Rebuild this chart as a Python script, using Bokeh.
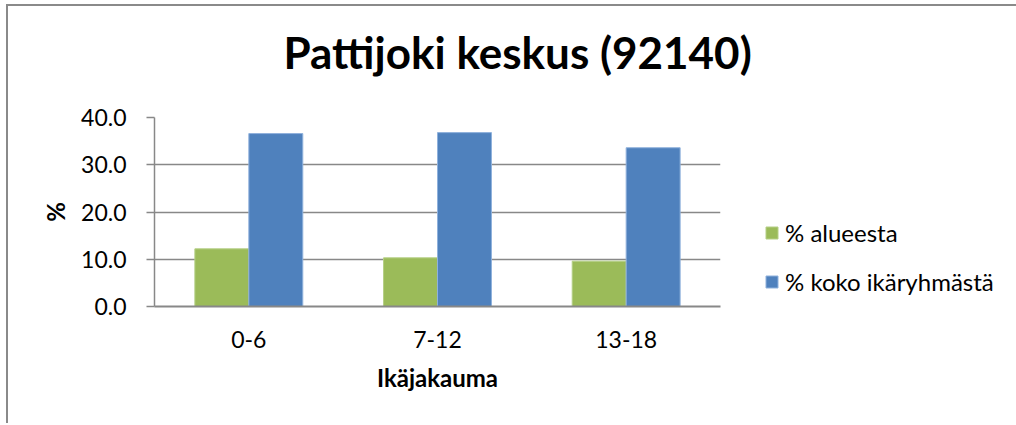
from bokeh.plotting import figure
from bokeh.layouts import row
from bokeh.models import (FactorRange, Range1d, ColumnDataSource, Legend, LegendItem,
                          NumeralTickFormatter, FixedTicker, Title)
from bokeh.transform import dodge
from bokeh.embed import file_html
from bokeh.resources import INLINE

categories = ["0-6", "7-12", "13-18"]
alueesta = [12.2, 10.3, 9.6]
koko_ikaryhmasta = [36.6, 36.8, 33.6]
series_names = ["% alueesta", "% koko ikäryhmästä"]
title_text = "Pattijoki keskus (92140)"
y_ticks = [0, 10, 20, 30, 40]

FONT = "Lato"
GREEN = "#9BBB59"
BLUE = "#4F81BD"
GREEN_EDGE = "#b5cf86"
BLUE_EDGE = "#8fb1dc"
GRID = "#888888"

src = ColumnDataSource(dict(cat=categories, a=alueesta, b=koko_ikaryhmasta))

p = figure(width=752, height=417, output_backend="svg", toolbar_location=None,
           x_range=FactorRange(*categories, range_padding=0),
           y_range=Range1d(0, 40),
           min_border_left=146, min_border_right=40,
           min_border_top=111, min_border_bottom=117)
p.outline_line_color = None
p.background_fill_color = "white"
p.border_fill_color = "white"
p.title.text = ""

bw = 0.286
p.vbar(x=dodge("cat", -bw / 2, range=p.x_range), top="a", width=bw, bottom=0,
       source=src, fill_color=GREEN, line_color=GREEN_EDGE, line_width=1)
p.vbar(x=dodge("cat", bw / 2, range=p.x_range), top="b", width=bw, bottom=0,
       source=src, fill_color=BLUE, line_color=BLUE_EDGE, line_width=1)

# title: a thin spacer title next to the frame, then the real title above it
spacer = Title(text=" ", text_font_size="1px", standoff=37, text_color="white")
p.add_layout(spacer, "above")
main_title = Title(text=title_text, align="left", offset=129, standoff=0,
                   vertical_align="bottom", text_font=FONT, text_font_size="44px",
                   text_font_style="bold", text_color="black")
p.add_layout(main_title, "above")

# grid
p.xgrid.grid_line_color = None
p.ygrid.grid_line_color = GRID
p.ygrid.grid_line_width = 1.5
p.ygrid.ticker = FixedTicker(ticks=y_ticks)

# y axis
p.yaxis.ticker = FixedTicker(ticks=y_ticks)
p.yaxis.formatter = NumeralTickFormatter(format="0.0")
p.yaxis.axis_line_color = GRID
p.yaxis.axis_line_width = 1.5
p.yaxis.major_tick_line_color = GRID
p.yaxis.major_tick_line_width = 1.5
p.yaxis.major_tick_out = 8
p.yaxis.major_tick_in = 0
p.yaxis.minor_tick_line_color = None
p.yaxis.major_label_text_font = FONT
p.yaxis.major_label_text_font_size = "23px"
p.yaxis.major_label_text_color = "black"
p.yaxis.major_label_standoff = 20
p.yaxis.axis_label = "%"
p.yaxis.axis_label_text_font = FONT
p.yaxis.axis_label_text_font_size = "24px"
p.yaxis.axis_label_text_font_style = "bold"
p.yaxis.axis_label_text_color = "black"
p.yaxis.axis_label_standoff = 8

# x axis
p.xaxis.axis_line_color = GRID
p.xaxis.axis_line_width = 2
p.xaxis.major_tick_line_color = None
p.xaxis.minor_tick_line_color = None
p.xaxis.major_label_text_font = FONT
p.xaxis.major_label_text_font_size = "23px"
p.xaxis.major_label_text_color = "black"
p.xaxis.major_label_standoff = 18
p.xaxis.axis_label = "Ikäjakauma"
p.xaxis.axis_label_text_font = FONT
p.xaxis.axis_label_text_font_size = "24px"
p.xaxis.axis_label_text_font_style = "bold"
p.xaxis.axis_label_text_color = "black"
p.xaxis.axis_label_standoff = 12

# legend panel (separate figure so the legend is not clipped by the chart frame)
pl = figure(width=256, height=417, output_backend="svg", toolbar_location=None,
            x_range=FactorRange(*categories), y_range=Range1d(0, 40),
            x_axis_location=None, y_axis_location=None,
            min_border_left=0, min_border_right=0, min_border_top=0, min_border_bottom=0)
pl.outline_line_color = None
pl.background_fill_color = "white"
pl.border_fill_color = "white"
pl.grid.visible = False
la = pl.vbar(x="cat", top="a", width=bw, source=src, fill_color=GREEN,
             line_color=GREEN_EDGE, visible=False)
lb = pl.vbar(x="cat", top="b", width=bw, source=src, fill_color=BLUE,
             line_color=BLUE_EDGE, visible=False)

legend = Legend(items=[LegendItem(label=series_names[0], renderers=[la]),
                       LegendItem(label=series_names[1], renderers=[lb])],
                location=(4, 10), orientation="vertical",
                glyph_width=15, glyph_height=15, label_height=28,
                label_standoff=6, spacing=20, padding=0, margin=0,
                border_line_color=None, background_fill_alpha=0,
                inactive_fill_alpha=0,
                label_text_font=FONT, label_text_font_size="24px",
                label_text_color="black")
pl.add_layout(legend, "center")

layout = row(p, pl, spacing=0)
layout.styles = {"border-left": "2px solid #8a8a8a", "border-top": "2px solid #8a8a8a",
                 "margin-left": "6px", "margin-top": "4px"}

open("out.html", "w").write(file_html(layout, INLINE))
